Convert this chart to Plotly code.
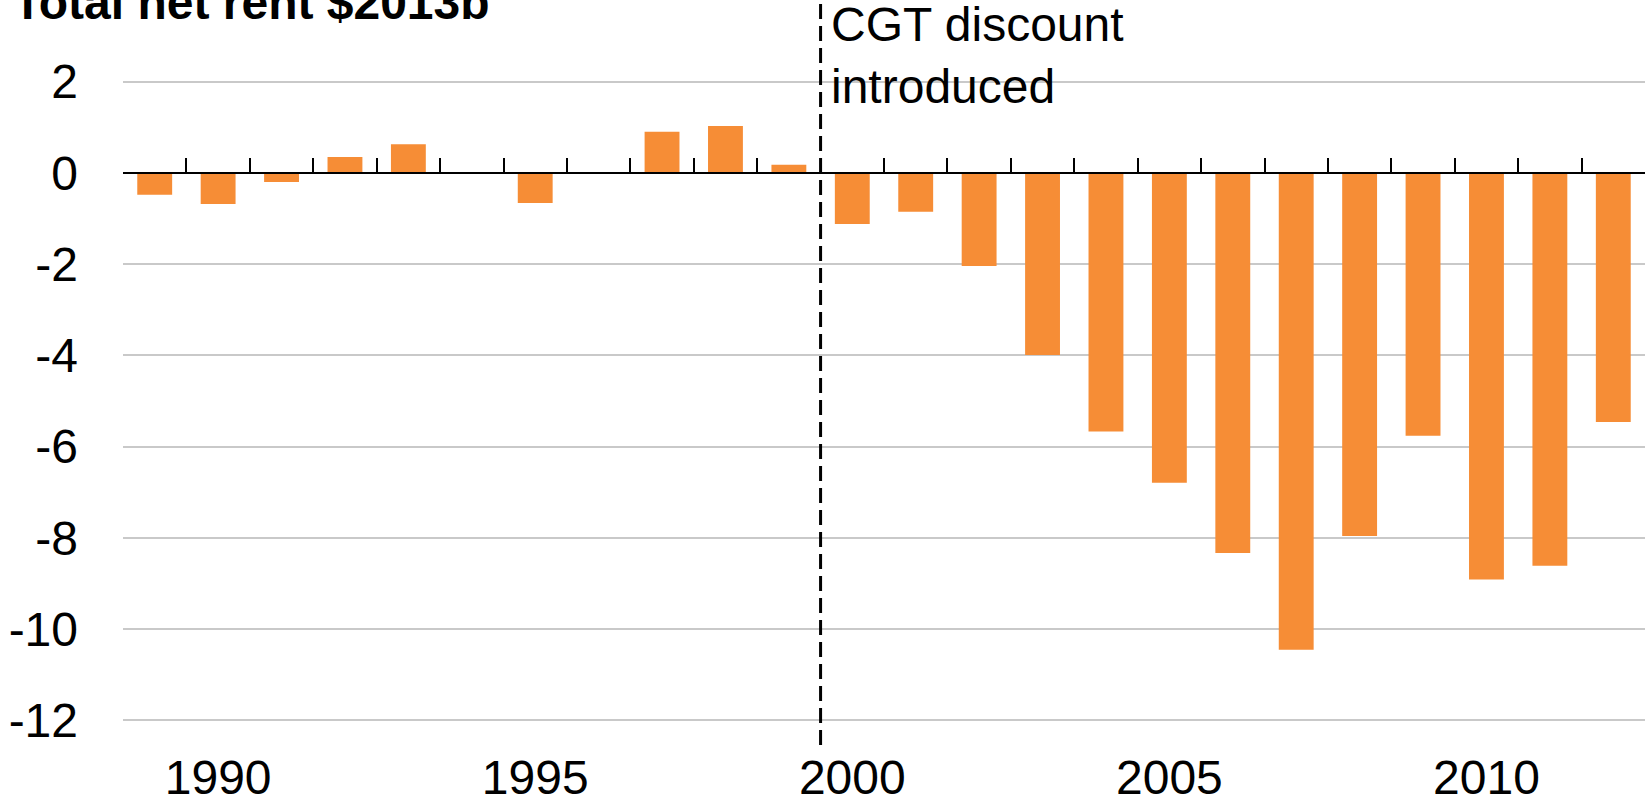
import plotly.graph_objects as go

years = list(range(1989, 2013))
net_rent = [-0.48, -0.68, -0.20, 0.35, 0.63, 0.0, -0.66, 0.0, 0.90, 1.03, 0.18,
            -1.12, -0.85, -2.04, -3.99, -5.67, -6.79, -8.33, -10.45, -7.96,
            -5.76, -8.91, -8.61, -5.46]
x_tick_years = [1990, 1995, 2000, 2005, 2010]
y_ticks = [2, 0, -2, -4, -6, -8, -10, -12]
y_tick_text = ["2", "0", "-2", "-4", "-6", "-8", "-10", "-12"]
boundaries = [y - 0.5 for y in years] + [years[-1] + 0.5]
cgt_year = 1999.5

FONT = "Liberation Sans, Arial, sans-serif"
FS = 48
ORANGE = "#F68D36"

ymin, ymax = -12.54, 3.79
xr = [years[0] - 0.5, years[-1] + 0.5]
zero_pos = (0 - ymin) / (ymax - ymin)

fig = go.Figure()
fig.add_trace(go.Bar(x=years, y=net_rent, marker=dict(color=ORANGE, line=dict(width=0)),
                     hoverinfo="skip"))
fig.add_trace(go.Scatter(x=years, y=net_rent, xaxis="x2", mode="markers",
                         marker=dict(opacity=0), hoverinfo="skip", showlegend=False))

fig.add_shape(type="line", xref="x", yref="paper", x0=cgt_year, x1=cgt_year, y0=0, y1=1,
              line=dict(color="black", width=3, dash="15px,7px"))

fig.add_annotation(text="<b>Total net rent $2013b</b>", xref="paper", yref="paper",
                   x=-0.067, y=0.996, xanchor="left", yanchor="middle", showarrow=False,
                   xshift=-10,
                   font=dict(family=FONT, size=48, color="black"))
fig.add_annotation(text="CGT discount<br>introduced", xref="x", yref="paper",
                   x=cgt_year, y=0.926, xanchor="left", yanchor="middle", align="left",
                   xshift=8, showarrow=False,
                   font=dict(family=FONT, size=FS, color="black"))

fig.update_layout(
    width=1645, height=799,
    margin=dict(l=123, r=0, t=0, b=54),
    paper_bgcolor="white", plot_bgcolor="white",
    bargap=0.45, showlegend=False,
    font=dict(family=FONT, size=FS, color="black"),
    xaxis=dict(range=xr, tickmode="array", tickvals=x_tick_years,
               ticktext=[str(v) for v in x_tick_years], showgrid=False, showline=False,
               zeroline=False, ticks="", automargin=False, ticklabelstandoff=0,
               tickfont=dict(family=FONT, size=FS, color="black")),
    xaxis2=dict(range=xr, overlaying="x", anchor="free", position=zero_pos, side="bottom",
                showline=True, linecolor="black", linewidth=2, ticks="inside", ticklen=14,
                tickwidth=1.5, tickcolor="black", tickmode="array", tickvals=boundaries,
                showticklabels=False, showgrid=False, zeroline=False, automargin=False),
    yaxis=dict(range=[ymin, ymax], tickmode="array", tickvals=y_ticks, ticktext=y_tick_text,
               showgrid=True, gridcolor="#C9C9C9", gridwidth=2, zeroline=False,
               showline=False, ticks="", automargin=False, ticklabelstandoff=44,
               tickfont=dict(family=FONT, size=FS, color="black")),
)

fig.write_html("out.html", config={"displayModeBar": False},
               post_script="document.body.style.margin='0px';")
